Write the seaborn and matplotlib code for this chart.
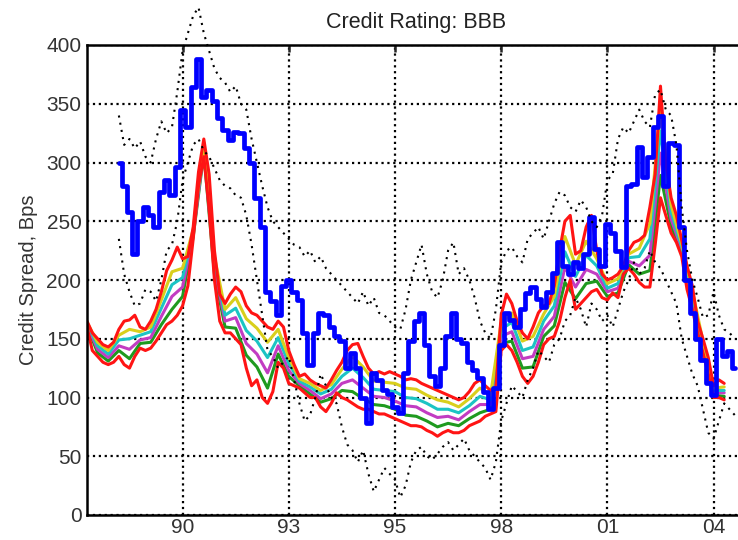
import numpy as np
import pandas as pd
import matplotlib
matplotlib.use('Agg')
import matplotlib.pyplot as plt
import seaborn as sns

# x is an observation index; the year labels sit at equally spaced positions
year_ticks = [18, 38, 58, 78, 98, 118]
year_labels = ['90', '93', '95', '98', '01', '04']

# red edges of the model bundle, index 0..120
band_top = [165, 155, 150, 145, 143, 147, 158, 165, 166, 170,
            160, 158, 165, 175, 190, 208, 217, 228, 218, 220,
            245, 292, 320, 290, 225, 188, 180, 188, 194, 190,
            178, 172, 170, 165, 160, 158, 165, 160, 140, 128,
            118, 120, 115, 112, 110, 108, 115, 123, 130, 140,
            145, 146, 135, 125, 120, 122, 120, 122, 120, 118,
            115, 116, 115, 112, 110, 108, 106, 104, 102, 100,
            98, 100, 105, 112, 115, 110, 106, 108, 170, 188,
            180, 165, 155, 150, 160, 172, 178, 180, 195, 225,
            250, 255, 222, 225, 245, 255, 225, 205, 200, 202,
            205, 212, 225, 232, 234, 238, 262, 290, 365, 300,
            270, 255, 234, 212, 195, 165, 150, 134, 110, 115,
            112]
band_bottom = [160, 140, 135, 130, 128, 130, 135, 128, 125, 135,
               142, 140, 142, 148, 155, 162, 165, 170, 178, 195,
               235, 280, 305, 260, 200, 165, 155, 155, 150, 145,
               125, 110, 115, 100, 95, 105, 130, 125, 112, 110,
               108, 104, 100, 100, 92, 88, 95, 104, 100, 98,
               95, 92, 90, 90, 88, 86, 86, 84, 82, 80,
               78, 76, 76, 75, 72, 70, 67, 70, 72, 70,
               70, 72, 76, 78, 80, 84, 86, 88, 140, 145,
               140, 130, 118, 112, 118, 130, 145, 150, 152, 165,
               185, 200, 175, 180, 185, 190, 192, 185, 183, 189,
               185, 205, 210, 205, 198, 194, 194, 230, 270, 255,
               240, 232, 220, 192, 175, 155, 138, 120, 100, 100,
               98]

# inner curves of the bundle, every second index 0..120
inner_1 = [161, 138, 131, 140, 133, 146, 147, 162, 175, 186, 237, 308, 205, 160, 159, 136,
           126, 108, 137, 118, 110, 103, 96, 99, 106, 105, 99, 94, 93, 90, 85, 84, 80, 75,
           78, 76, 82, 87, 90, 146, 148, 125, 126, 152, 161, 198, 184, 197, 199, 186, 189,
           213, 205, 208, 289, 246, 223, 179, 140, 102, 101]
inner_2 = [162, 141, 134, 144, 141, 149, 151, 169, 186, 194, 239, 311, 210, 165, 168, 146,
           137, 121, 144, 123, 112, 106, 99, 103, 112, 115, 108, 101, 100, 97, 93, 92, 87, 83,
           84, 81, 88, 94, 94, 152, 156, 133, 135, 158, 169, 211, 194, 209, 205, 190, 193,
           216, 212, 221, 308, 252, 226, 183, 143, 104, 104]
inner_3 = [163, 144, 137, 149, 150, 153, 156, 176, 196, 202, 241, 314, 215, 170, 176, 157,
           148, 134, 151, 129, 114, 109, 103, 107, 118, 125, 117, 107, 106, 105, 100, 99, 95, 90,
           90, 87, 93, 101, 98, 158, 164, 140, 143, 165, 178, 224, 203, 221, 212, 193, 197,
           219, 220, 235, 327, 258, 228, 187, 145, 106, 106]
inner_4 = [164, 147, 140, 153, 158, 156, 160, 183, 207, 210, 243, 317, 220, 175, 185, 167,
           159, 147, 158, 134, 116, 112, 106, 111, 124, 135, 126, 114, 113, 112, 108, 107, 102, 98,
           96, 92, 99, 108, 102, 164, 172, 148, 152, 171, 186, 237, 213, 233, 218, 197, 201,
           222, 227, 248, 346, 264, 231, 191, 148, 108, 109]

# observed spread (thick blue) and the dotted bands, index 6..122
blue_spread = [300, 280, 258, 222, 250, 262, 255, 245, 275, 285,
               272, 296, 345, 330, 364, 388, 356, 362, 352, 338,
               328, 319, 326, 325, 312, 300, 270, 245, 190, 182,
               170, 195, 200, 190, 183, 155, 128, 155, 172, 170,
               160, 152, 148, 125, 138, 125, 100, 78, 121, 115,
               106, 103, 92, 87, 121, 148, 165, 172, 145, 118,
               110, 125, 152, 172, 150, 146, 130, 123, 117, 105,
               90, 108, 145, 172, 166, 160, 175, 189, 194, 184,
               177, 190, 206, 232, 212, 205, 215, 210, 222, 254,
               226, 212, 248, 240, 225, 211, 280, 282, 313, 288,
               305, 330, 340, 280, 317, 315, 245, 200, 172, 150,
               132, 112, 102, 150, 135, 140, 125]
dots_upper = [340, 315, 320, 312, 318, 305, 300, 320, 335, 325,
              330, 360, 395, 410, 425, 432, 410, 395, 380, 372,
              368, 360, 365, 350, 345, 320, 300, 280, 262, 250,
              245, 240, 235, 230, 228, 220, 225, 215, 220, 210,
              205, 200, 195, 190, 185, 180, 190, 178, 185, 172,
              170, 165, 160, 158, 175, 200, 215, 230, 205, 190,
              185, 200, 225, 232, 205, 210, 200, 185, 165, 155,
              150, 175, 215, 225, 228, 220, 215, 235, 240, 245,
              235, 250, 265, 275, 272, 262, 258, 268, 262, 250,
              245, 255, 285, 290, 320, 330, 325, 335, 345, 335,
              330, 358, 362, 345, 340, 315, 262, 225, 200, 185,
              168, 170, 190, 170, 158, 155, 150]
dots_lower = [235, 205, 190, 178, 180, 192, 190, 182, 200, 225,
              230, 250, 285, 300, 315, 320, 310, 305, 295, 285,
              280, 278, 272, 270, 255, 230, 200, 170, 140, 135,
              125, 130, 135, 115, 95, 80, 85, 100, 120, 110,
              100, 95, 75, 60, 55, 45, 55, 35, 20, 30,
              40, 35, 30, 15, 25, 45, 55, 58, 50, 47,
              52, 58, 62, 55, 60, 65, 55, 50, 45, 40,
              30, 45, 80, 95, 110, 105, 100, 115, 125, 140,
              135, 130, 145, 150, 165, 170, 185, 175, 160, 180,
              175, 165, 170, 160, 175, 190, 200, 215, 205, 210,
              225, 215, 210, 200, 190, 180, 150, 135, 120, 110,
              90, 70, 65, 80, 95, 90, 85]

idx_full = np.arange(len(band_top))
idx_half = np.arange(len(inner_1)) * 2
idx_obs = np.arange(6, 6 + len(blue_spread))

pieces = [
    ('inner_1', idx_half, inner_1),
    ('inner_2', idx_half, inner_2),
    ('inner_3', idx_half, inner_3),
    ('inner_4', idx_half, inner_4),
    ('top', idx_full, band_top),
    ('bottom', idx_full, band_bottom),
]
bundle = pd.concat(
    [pd.DataFrame({'idx': xs, 'spread': vals, 'curve': name}) for name, xs, vals in pieces],
    ignore_index=True)
palette = {'inner_1': '#1f9a1f', 'inner_2': '#c23cc2', 'inner_3': '#1cc4c4',
           'inner_4': '#d9cf1c', 'top': '#ff1414', 'bottom': '#ff1414'}

sns.set_style('white')
plt.rcParams['font.family'] = ['Liberation Sans', 'DejaVu Sans']

fig = plt.figure(figsize=(7.38, 5.40), dpi=100)
ax = fig.add_axes([87 / 738, 25 / 540, 658 / 738, 470 / 540])

sns.lineplot(data=bundle, x='idx', y='spread', hue='curve', hue_order=[p[0] for p in pieces],
             palette=palette, estimator=None, sort=False, legend=False, linewidth=2.2, ax=ax)
sns.lineplot(x=idx_obs, y=blue_spread, color='#0000ff', linewidth=3.4, drawstyle='steps-mid',
             estimator=None, sort=False, ax=ax)
sns.lineplot(x=idx_obs, y=dots_upper, color='k', linestyle=(0, (1, 2.5)), linewidth=1.5,
             estimator=None, sort=False, ax=ax, clip_on=False, zorder=5)
sns.lineplot(x=idx_obs, y=dots_lower, color='k', linestyle=(0, (1, 2.5)), linewidth=1.5,
             estimator=None, sort=False, ax=ax, zorder=5)

ax.set_xlim(0, 658 / 5.31)
ax.set_ylim(0, 400)
ax.set_xticks(year_ticks)
ax.set_xticklabels(year_labels)
ax.set_yticks(np.arange(0, 401, 50))
ax.grid(True, linestyle=':', color='k', linewidth=1.6)
ax.tick_params(direction='in', length=5, width=1.8, top=True, right=True,
               labelsize=15, labelcolor='#333333')
ax.tick_params(axis='x', pad=2)
ax.tick_params(axis='y', pad=4)
for sp in ax.spines.values():
    sp.set_linewidth(1.8)
    sp.set_color('k')

ax.set_xlabel('')
ax.set_ylabel('Credit Spread, Bps', fontsize=14.5, color='#333333', labelpad=6)
ax.set_title('Credit Rating: BBB', fontsize=15.5, color='#222222', pad=12)

fig.savefig('out.png', dpi=100)
